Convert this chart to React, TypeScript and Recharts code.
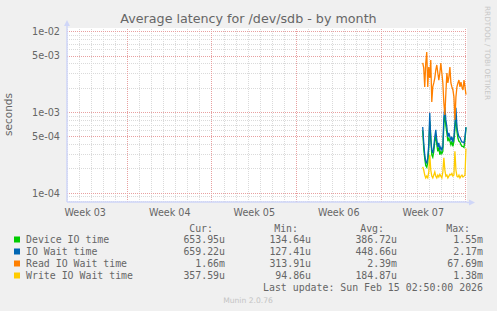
import React from "react";
import { LineChart, Line, XAxis, YAxis, ReferenceLine } from "recharts";

// Munin "by month" latency graph for /dev/sdb.
// x = hours relative to the last update, y = seconds on a log scale.

const hours = [
  -88, -86, -84, -82, -80, -78, -76, -74, -72, -70, -68, -66, -64, -62, -60,
  -58, -56, -54, -52, -50, -48, -46, -44, -42, -40, -38, -36, -34, -32, -30,
  -28, -26, -24, -22, -20, -18, -16, -14, -12, -10, -8, -6, -4, -2,
];

// values in milliseconds
const deviceMs = [
  0.6, 0.36, 0.27, 0.22, 0.21, 0.24, 0.36, 0.78, 0.52, 0.3,
  0.28, 0.33, 0.44, 0.52, 0.4, 0.33, 0.37, 0.3, 0.33, 0.31,
  0.33, 0.72, 0.95, 0.68, 0.56, 0.44, 0.48, 0.44, 0.4, 0.44,
  0.38, 0.44, 0.62, 0.92, 0.58, 0.48, 0.44, 0.43, 0.4, 0.38,
  0.38, 0.37, 0.45, 0.654,
];
const ioWaitMs = [
  0.66, 0.42, 0.3, 0.246, 0.237, 0.274, 0.4, 0.99, 0.457, 0.344,
  0.315, 0.374, 0.5, 0.61, 0.457, 0.374, 0.42, 0.344, 0.374, 0.344,
  0.374, 0.88, 1.17, 0.81, 0.66, 0.5, 0.56, 0.5, 0.457, 0.5,
  0.43, 0.5, 0.74, 1.14, 0.66, 0.56, 0.5, 0.49, 0.457, 0.43,
  0.43, 0.42, 0.5, 0.659,
];
const readMs = [
  4.1, 3.56, 2.07, 4.1, 5.61, 2.07, 3.66, 2.67, 4.47, 1.35,
  2.07, 2.32, 2.67, 3.36, 3.87, 3.08, 2.52, 3.08, 4.1, 3.08,
  2.32, 1.31, 0.93, 1.74, 3.08, 2.32, 2.75, 3.66, 2.32, 2.07,
  1.9, 1.56, 0.81, 1.56, 2.07, 2.32, 2.52, 2.07, 2.38, 2.07,
  1.9, 2.52, 2.07, 1.66,
];
const writeMs = [
  0.212, 0.194, 0.168, 0.155, 0.163, 0.155, 0.184, 0.3, 0.194, 0.163,
  0.155, 0.168, 0.184, 0.163, 0.155, 0.168, 0.159, 0.172, 0.163, 0.155,
  0.184, 0.274, 0.194, 0.163, 0.168, 0.155, 0.163, 0.172, 0.168, 0.176,
  0.163, 0.168, 0.33, 0.194, 0.163, 0.159, 0.168, 0.155, 0.163, 0.168,
  0.159, 0.163, 0.168, 0.358,
];

const weekLabels = ["Week 03", "Week 04", "Week 05", "Week 06", "Week 07"];
const weekLabelHours = [-758.83, -590.83, -422.83, -254.83, -86.83];
const yTicks = [1e-4, 5e-4, 1e-3, 5e-3, 1e-2];

const legendNames = ["Device IO time", "IO Wait time", "Read IO Wait time", "Write IO Wait time"];
const legendColors = ["#00CC00", "#0066B3", "#FF8000", "#FFCC00"];
const curVals = ["653.95u", "659.22u", "1.66m", "357.59u"];
const minVals = ["134.64u", "127.41u", "313.91u", "94.86u"];
const avgVals = ["386.72u", "448.66u", "2.39m", "184.87u"];
const maxVals = ["1.55m", "2.17m", "67.69m", "1.38m"];

const X_DOMAIN: [number, number] = [-795, 0];
const Y_DOMAIN: [number, number] = [7.8e-5, 1.111e-2];

const data = hours.map((h, i) => ({
  h,
  device: deviceMs[i] / 1000,
  iowait: ioWaitMs[i] / 1000,
  read: readMs[i] / 1000,
  write: writeMs[i] / 1000,
}));

// grid: a dotted line every day, red every week (Sunday 00:00)
const dayLines = Array.from({ length: 34 }, (_, k) => ({ h: -2.83 - 24 * k, major: k % 7 === 0 })).filter(
  (d) => d.h > X_DOMAIN[0]
);
const yGrid: { v: number; major: boolean }[] = [];
for (const e of [-5, -4, -3, -2]) {
  for (const m of [1, 2, 3, 4, 5, 6, 7, 8, 9]) {
    const v = m * Math.pow(10, e);
    if (v >= Y_DOMAIN[0] && v <= Y_DOMAIN[1]) yGrid.push({ v, major: m === 1 || m === 5 });
  }
}

function fmtExp(v: number): string {
  const [m, e] = v.toExponential(0).split("e");
  const n = Math.abs(parseInt(e, 10));
  return `${m}e${parseInt(e, 10) < 0 ? "-" : "+"}${n < 10 ? "0" + n : n}`;
}

const FONT = "#666666";
const AXIS = "#CFD6F8";
const GRID = "#DADADA";
const MGRID = "#E8A0A0";
const sans = "'DejaVu Sans', sans-serif";
const mono = "'DejaVu Sans Mono', monospace";

export default function App() {
  return (
    <div style={{ position: "absolute", left: 0, top: 0, width: 497, height: 311, background: "#F0F0F0" }}>
      <LineChart
        width={497}
        height={311}
        data={data}
        margin={{ top: 28, right: 30, bottom: 79, left: 0 }}
      >
        <rect x={67} y={28} width={400} height={174} fill="#FFFFFF" />
        {yGrid.filter((g) => !g.major).map((g) => (
          <ReferenceLine key={"ym" + g.v} y={g.v} stroke={GRID} strokeDasharray="1 1" shapeRendering="crispEdges" />
        ))}
        {dayLines.filter((d) => !d.major).map((d) => (
          <ReferenceLine key={"xm" + d.h} x={d.h} stroke={GRID} strokeDasharray="1 1" shapeRendering="crispEdges" />
        ))}
        {yGrid.filter((g) => g.major).map((g) => (
          <ReferenceLine key={"yM" + g.v} y={g.v} stroke={MGRID} strokeDasharray="1 1" shapeRendering="crispEdges" />
        ))}
        {dayLines.filter((d) => d.major).map((d) => (
          <ReferenceLine key={"xM" + d.h} x={d.h} stroke={MGRID} strokeDasharray="1 1" shapeRendering="crispEdges" />
        ))}
        <XAxis
          dataKey="h"
          type="number"
          domain={X_DOMAIN}
          allowDataOverflow
          ticks={weekLabelHours}
          tickFormatter={(_v: number, i: number) => weekLabels[i]}
          tick={{ fontSize: 9.6, fill: FONT, fontFamily: sans }}
          tickLine={false}
          tickSize={5}
          tickMargin={2}
          axisLine={{ stroke: AXIS, strokeWidth: 1.5 }}
          height={30}
        />
        <YAxis
          type="number"
          scale="log"
          domain={Y_DOMAIN}
          allowDataOverflow
          ticks={yTicks}
          tickFormatter={fmtExp}
          tick={{ fontSize: 9.7, fill: FONT, fontFamily: sans }}
          tickLine={false}
          tickSize={5}
          tickMargin={2}
          axisLine={{ stroke: AXIS, strokeWidth: 1.5 }}
          width={67}
        />
        <Line type="linear" dataKey="device" stroke="#00CC00" strokeWidth={1.3} dot={false} isAnimationActive={false} />
        <Line type="linear" dataKey="iowait" stroke="#0066B3" strokeWidth={1.3} dot={false} isAnimationActive={false} />
        <Line type="linear" dataKey="read" stroke="#FF8000" strokeWidth={1.3} dot={false} isAnimationActive={false} />
        <Line type="linear" dataKey="write" stroke="#FFCC00" strokeWidth={1.3} dot={false} isAnimationActive={false} />
      </LineChart>

      <svg
        width={497}
        height={311}
        style={{ position: "absolute", left: 0, top: 0, pointerEvents: "none" }}
      >
        {/* axis extensions + arrows */}
        <line x1={67} y1={28} x2={67} y2={24} stroke={AXIS} strokeWidth={1.5} />
        <polygon points="64,26 70,26 67,20" fill={AXIS} />
        <line x1={467} y1={202.5} x2={470} y2={202.5} stroke={AXIS} strokeWidth={1.5} />
        <polygon points="469,199.5 469,205.5 475,202.5" fill={AXIS} />

        <text x={248.5} y={23} textAnchor="middle" fontFamily={sans} fontSize={12.7} fill={FONT}>
          Average latency for /dev/sdb - by month
        </text>
        <text
          x={0}
          y={0}
          transform="translate(12,114.5) rotate(-90)"
          textAnchor="middle"
          fontFamily={sans}
          fontSize={10.5}
          fill={FONT}
        >
          seconds
        </text>
        <text
          x={0}
          y={0}
          transform="translate(485,53) rotate(90)"
          textAnchor="middle"
          fontFamily={sans}
          fontSize={7.3}
          fill="#C8C8C8"
        >
          RRDTOOL / TOBI OETIKER
        </text>

        <g fontFamily={mono} fontSize={9.9} fill={FONT}>
          <text x={213} y={231.5} textAnchor="end">Cur:</text>
          <text x={298} y={231.5} textAnchor="end">Min:</text>
          <text x={384} y={231.5} textAnchor="end">Avg:</text>
          <text x={470} y={231.5} textAnchor="end">Max:</text>
          {legendNames.map((name, i) => {
            const base = 243 + i * 12;
            return (
              <g key={name}>
                <rect x={14} y={base - 6.5} width={6} height={6} fill={legendColors[i]} />
                <text x={26} y={base}>{name}</text>
                <text x={225} y={base} textAnchor="end">{curVals[i]}</text>
                <text x={311} y={base} textAnchor="end">{minVals[i]}</text>
                <text x={397} y={base} textAnchor="end">{avgVals[i]}</text>
                <text x={483} y={base} textAnchor="end">{maxVals[i]}</text>
              </g>
            );
          })}
          <text x={483} y={291} textAnchor="end">Last update: Sun Feb 15 02:50:00 2026</text>
        </g>
        <text x={248} y={303} textAnchor="middle" fontFamily={sans} fontSize={7.6} fill="#C4C4C4">
          Munin 2.0.76
        </text>
      </svg>
    </div>
  );
}
